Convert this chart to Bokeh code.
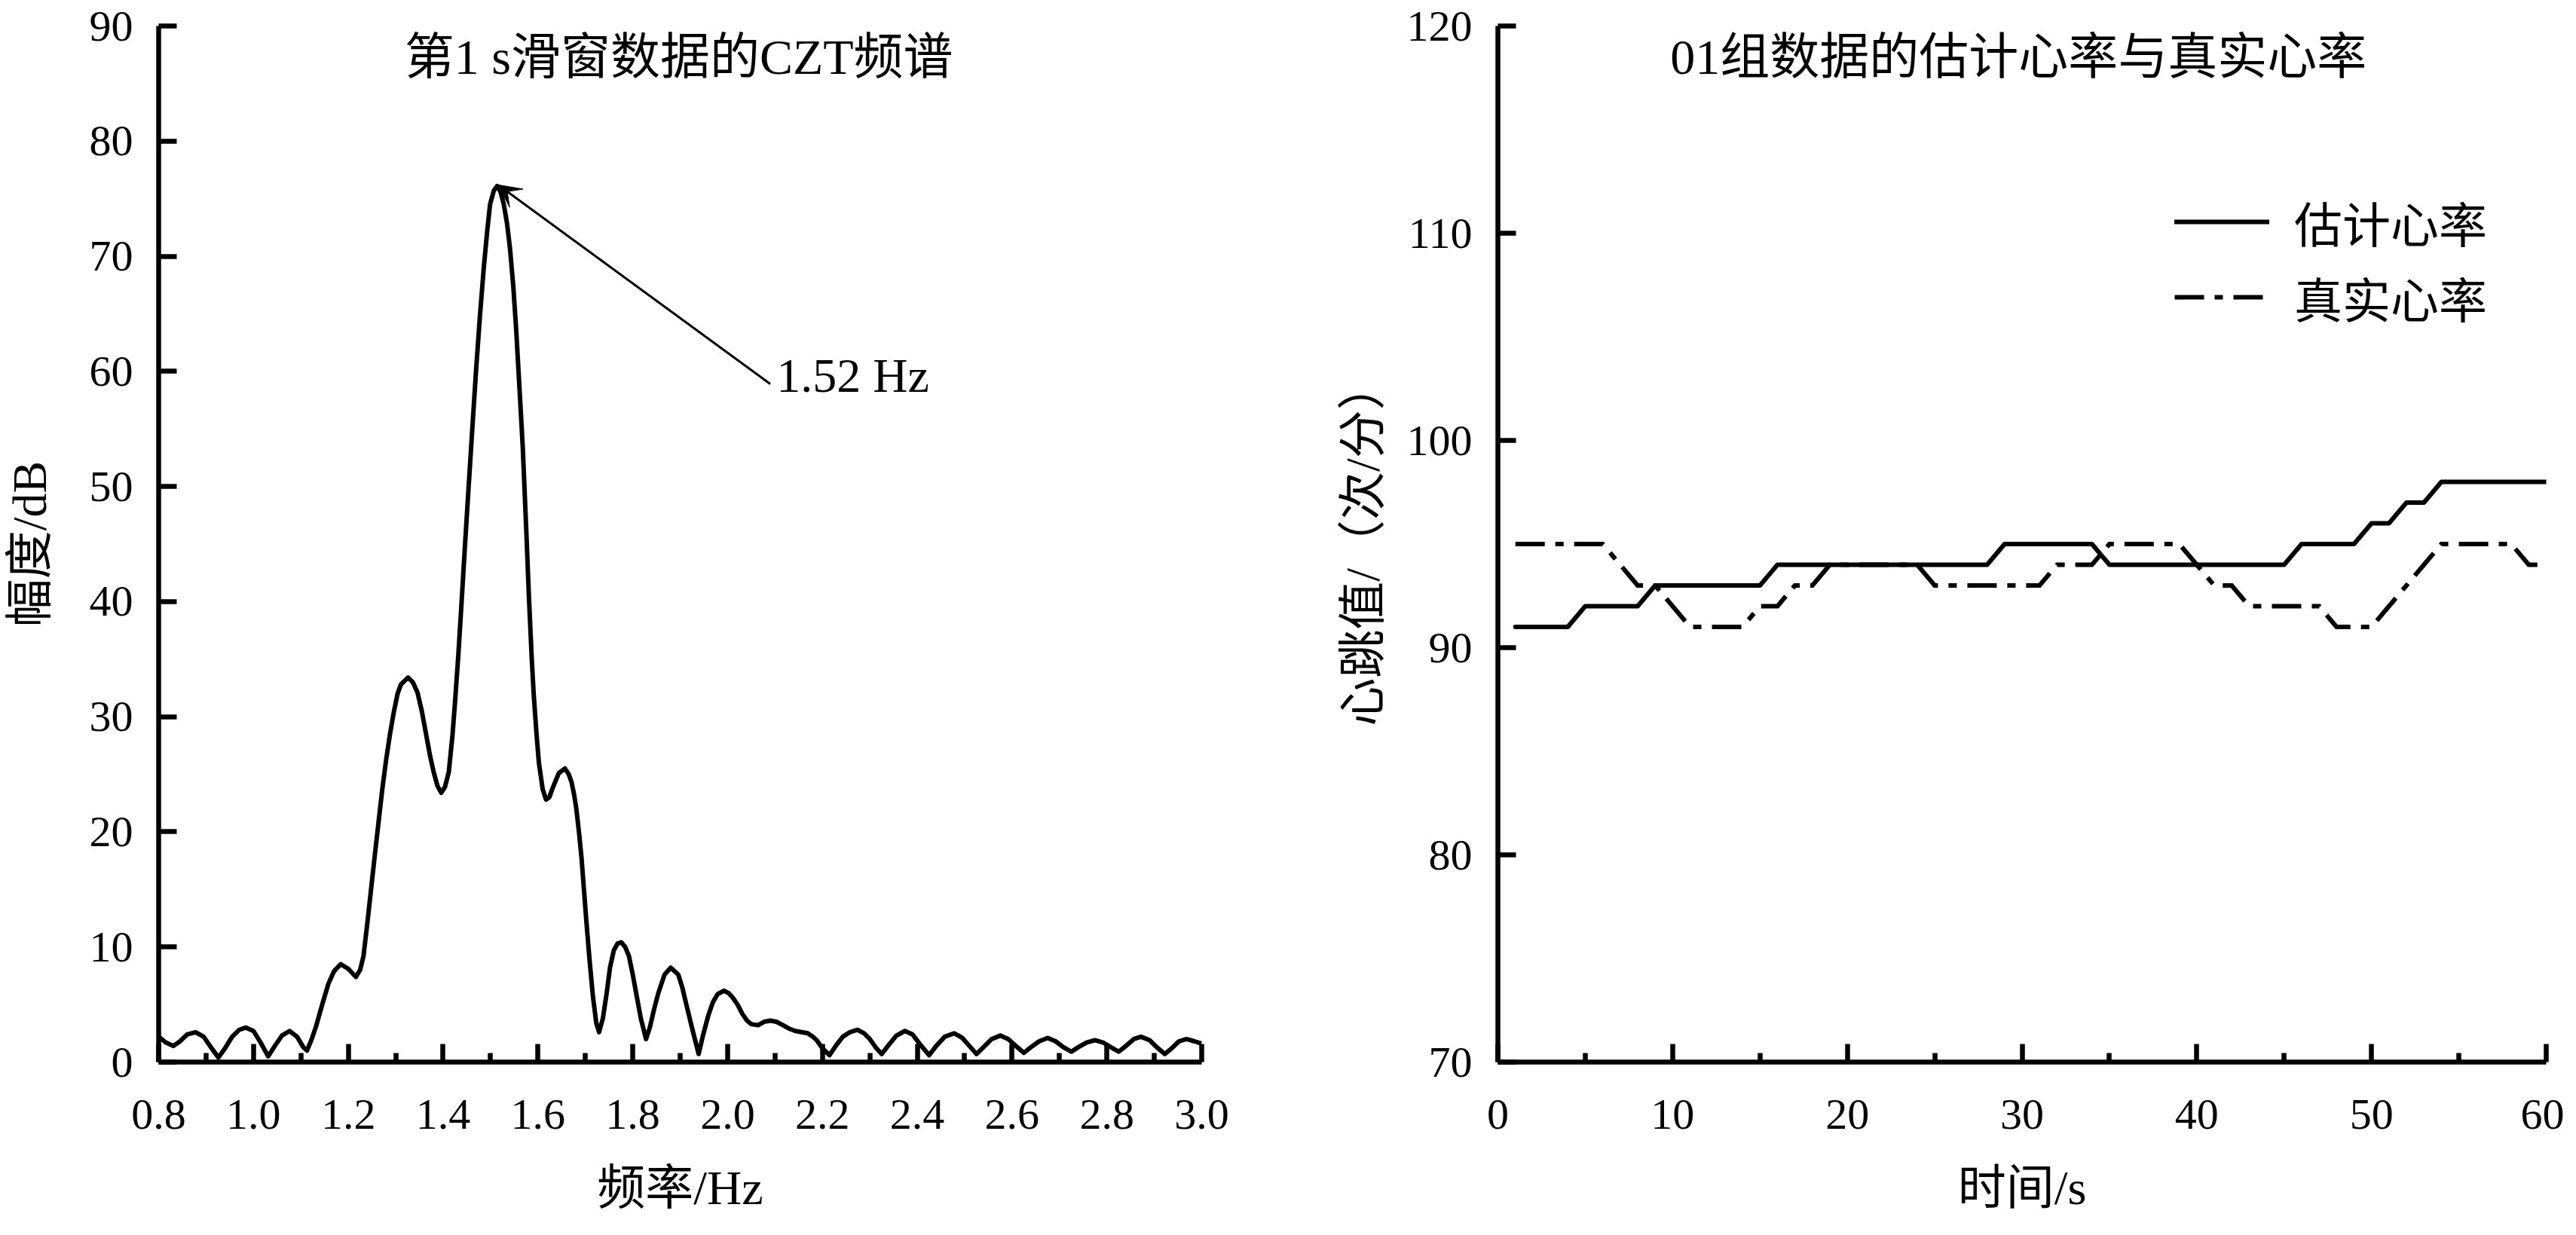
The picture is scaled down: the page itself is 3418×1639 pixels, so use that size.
from bokeh.plotting import figure
from bokeh.models import (Range1d, FixedTicker, Label, Arrow, VeeHead, Legend,
                          LegendItem, ColumnDataSource, NumeralTickFormatter)
from bokeh.layouts import row
from bokeh.embed import file_html
from bokeh.resources import INLINE

FONT = "Liberation Serif, Noto Sans CJK SC"

# ---------------- data: left panel (CZT spectrum) ----------------
freq_hz = [0.800, 0.815, 0.831, 0.845, 0.860, 0.878, 0.895, 0.910, 0.926, 0.940,
           0.955, 0.970, 0.984, 1.000, 1.015, 1.031, 1.045, 1.060, 1.076, 1.092,
           1.105, 1.113, 1.122, 1.132, 1.145, 1.158, 1.170, 1.184, 1.200, 1.216,
           1.225, 1.232, 1.240, 1.248, 1.256, 1.264, 1.272, 1.280, 1.288, 1.296,
           1.304, 1.311, 1.326, 1.336, 1.346, 1.355, 1.364, 1.372, 1.380, 1.388,
           1.396, 1.404, 1.412, 1.420, 1.425, 1.432, 1.438, 1.446, 1.454, 1.462,
           1.470, 1.478, 1.486, 1.493, 1.499, 1.507, 1.514, 1.521, 1.528, 1.535,
           1.541, 1.548, 1.554, 1.561, 1.568, 1.575, 1.581, 1.587, 1.591, 1.597,
           1.602, 1.610, 1.617, 1.624, 1.631, 1.644, 1.657, 1.665, 1.671, 1.676,
           1.681, 1.687, 1.692, 1.697, 1.702, 1.709, 1.716, 1.723, 1.729, 1.737,
           1.745, 1.752, 1.760, 1.768, 1.776, 1.784, 1.792, 1.800, 1.808, 1.817,
           1.828, 1.836, 1.845, 1.854, 1.867, 1.880, 1.896, 1.905, 1.913, 1.926,
           1.939, 1.948, 1.959, 1.969, 1.979, 1.992, 2.002, 2.011, 2.021, 2.031,
           2.041, 2.050, 2.064, 2.077, 2.090, 2.103, 2.117, 2.130, 2.143, 2.156,
           2.169, 2.180, 2.188, 2.200, 2.215, 2.228, 2.243, 2.258, 2.274, 2.288,
           2.300, 2.312, 2.325, 2.340, 2.356, 2.374, 2.390, 2.405, 2.425, 2.440,
           2.458, 2.478, 2.495, 2.510, 2.525, 2.540, 2.557, 2.575, 2.592, 2.608,
           2.625, 2.640, 2.657, 2.675, 2.692, 2.708, 2.725, 2.740, 2.757, 2.775,
           2.792, 2.808, 2.825, 2.840, 2.857, 2.872, 2.890, 2.905, 2.922, 2.937,
           2.952, 2.968, 2.985, 3.000]
amp_db = [2.2, 1.7, 1.4, 1.8, 2.4, 2.6, 2.2, 1.3, 0.4, 1.2,
          2.2, 2.8, 3.0, 2.7, 1.7, 0.5, 1.4, 2.3, 2.7, 2.2,
          1.3, 1.0, 1.9, 3.1, 5.0, 6.8, 7.9, 8.5, 8.1, 7.4,
          8.0, 9.2, 12.0, 15.0, 18.0, 20.9, 23.8, 26.3, 28.5, 30.4,
          32.0, 32.8, 33.4, 33.0, 32.1, 30.5, 28.5, 26.7, 25.2, 24.0,
          23.4, 23.9, 25.2, 28.5, 31.2, 35.3, 39.3, 44.8, 50.1, 55.3,
          60.4, 65.0, 69.1, 72.2, 74.5, 75.7, 76.1, 75.6, 74.5, 72.8,
          70.7, 67.4, 63.7, 58.6, 53.4, 46.6, 40.4, 35.0, 32.0, 28.5,
          26.0, 23.7, 22.8, 23.0, 23.8, 25.1, 25.5, 25.0, 24.3, 23.3,
          22.0, 19.8, 17.7, 15.0, 12.3, 8.8, 5.7, 3.4, 2.6, 3.8,
          6.0, 8.2, 9.7, 10.3, 10.4, 10.0, 9.2, 7.6, 5.8, 3.8,
          2.0, 3.0, 4.6, 6.0, 7.6, 8.2, 7.6, 6.4, 5.0, 2.8,
          0.7, 2.3, 4.0, 5.2, 5.9, 6.2, 6.0, 5.6, 5.0, 4.2,
          3.6, 3.3, 3.2, 3.5, 3.6, 3.5, 3.2, 2.9, 2.7, 2.6,
          2.5, 2.2, 1.9, 1.2, 0.6, 1.4, 2.2, 2.6, 2.8, 2.5,
          2.0, 1.3, 0.7, 1.5, 2.3, 2.7, 2.4, 1.6, 0.6, 1.4,
          2.2, 2.5, 2.1, 1.4, 0.7, 1.3, 2.0, 2.3, 2.0, 1.4,
          0.8, 1.3, 1.8, 2.1, 1.8, 1.3, 0.9, 1.3, 1.7, 1.9,
          1.7, 1.3, 0.9, 1.4, 2.0, 2.2, 1.9, 1.3, 0.7, 1.2,
          1.8, 2.0, 1.8, 1.6]

peak_freq = 1.516
peak_amp = 76.2
peak_label = "1.52 Hz"

x1_ticks = [0.8, 1.0, 1.2, 1.4, 1.6, 1.8, 2.0, 2.2, 2.4, 2.6, 2.8, 3.0]
x1_minor = [0.9, 1.1, 1.3, 1.5, 1.7, 1.9, 2.1, 2.3, 2.5, 2.7, 2.9]
y1_ticks = [0, 10, 20, 30, 40, 50, 60, 70, 80, 90]

# ---------------- data: right panel (heart rate) ----------------
time_s = list(range(1, 61))
est_hr = ([91] * 4 + [92] * 4 + [93] * 7 + [94] * 13 + [95] * 6 +
          [94] * 11 + [95] * 4 + [96] * 2 + [97] * 2 + [98] * 7)
true_hr = ([95] * 6 + [94, 93, 93, 92] + [91] * 4 + [92, 92, 93, 93] + [94] * 6 +
           [93] * 7 + [94] * 3 + [95] * 5 + [94, 93, 93] + [92] * 5 + [91] * 3 +
           [92, 93, 94] + [95] * 5 + [94] * 2)

x2_ticks = [0, 10, 20, 30, 40, 50, 60]
x2_minor = [5, 15, 25, 35, 45, 55]
y2_ticks = [70, 80, 90, 100, 110, 120]


def style_axes(p, xt, xm, yt, x_lab, y_lab, y_lab_standoff, y_tick_standoff):
    p.grid.visible = False
    p.outline_line_color = None
    p.background_fill_color = "white"
    p.border_fill_color = "white"
    p.xaxis.ticker = FixedTicker(ticks=xt, minor_ticks=xm)
    p.yaxis.ticker = FixedTicker(ticks=yt, minor_ticks=[])
    for ax in (p.xaxis[0], p.yaxis[0]):
        ax.axis_line_width = 6.5
        ax.axis_line_color = "black"
        ax.major_tick_line_width = 6.5
        ax.minor_tick_line_width = 6.5
        ax.major_tick_line_color = "black"
        ax.minor_tick_line_color = "black"
        ax.major_tick_in = 24
        ax.major_tick_out = 0
        ax.minor_tick_in = 12
        ax.minor_tick_out = 0
        ax.major_label_text_font = FONT
        ax.major_label_text_font_size = "58px"
        ax.major_label_text_color = "black"
        ax.axis_label_text_font = FONT
        ax.axis_label_text_font_size = "64px"
        ax.axis_label_text_font_style = "normal"
        ax.axis_label_text_color = "black"
    p.xaxis.axis_label = x_lab
    p.yaxis.axis_label = y_lab
    p.xaxis.major_label_standoff = 50
    p.xaxis.axis_label_standoff = 40
    p.yaxis.major_label_standoff = y_tick_standoff
    p.yaxis.axis_label_standoff = y_lab_standoff


def text_label(p, x, y, txt, size, align="center"):
    p.add_layout(Label(x=x, y=y, text=txt, text_font=FONT, text_font_size=size,
                       text_baseline="middle", text_align=align, text_color="black"))


# ---------------- left figure ----------------
p1 = figure(width=1698, height=1623, x_range=Range1d(0.8, 3.0), y_range=Range1d(0, 90),
            output_backend="svg", toolbar_location=None,
            min_border_left=206, min_border_right=104, min_border_top=34, min_border_bottom=214)
style_axes(p1, x1_ticks, x1_minor, y1_ticks, "频率/Hz", "幅度/dB", 41, 34)
p1.xaxis.formatter = NumeralTickFormatter(format="0.0")

src1 = ColumnDataSource(dict(f=freq_hz, a=amp_db))
p1.line("f", "a", source=src1, line_color="black", line_width=6, line_join="round")

p1.add_layout(Arrow(end=VeeHead(size=30, fill_color="black", line_color="black", line_width=1),
                    x_start=2.09, y_start=58.9, x_end=peak_freq, y_end=peak_amp,
                    line_color="black", line_width=3))
text_label(p1, 2.103, 59.6, peak_label, "64px", align="left")
text_label(p1, 1.897, 87.3, "第1 s滑窗数据的CZT频谱", "66px")

# ---------------- right figure ----------------
p2 = figure(width=1704, height=1623, x_range=Range1d(0, 60), y_range=Range1d(70, 120),
            output_backend="svg", toolbar_location=None,
            min_border_left=289, min_border_right=24, min_border_top=34, min_border_bottom=214)
style_axes(p2, x2_ticks, x2_minor, y2_ticks, "时间/s", "心跳值/（次/分）", 20, 34)

src2 = ColumnDataSource(dict(t=time_s, e=est_hr, r=true_hr))
r_est = p2.line("t", "e", source=src2, line_color="black", line_width=6,
                line_join="round", line_cap="round")
r_true = p2.line("t", "r", source=src2, line_color="black", line_width=6,
                 line_dash="39 14 11 14", line_join="miter", line_cap="butt")

legend = Legend(items=[LegendItem(label="估计心率", renderers=[r_est]),
                       LegendItem(label="真实心率", renderers=[r_true])],
                location=(898, 969), glyph_width=126, glyph_height=60, label_height=60,
                spacing=8, label_standoff=33, padding=0, margin=0,
                border_line_color=None, background_fill_alpha=0,
                label_text_font=FONT, label_text_font_size="64px", label_text_color="black")
p2.add_layout(legend)

text_label(p2, 29.8, 118.5, "01组数据的估计心率与真实心率", "66px")

layout = row(p1, p2)
open("out.html", "w").write(file_html(layout, INLINE))
